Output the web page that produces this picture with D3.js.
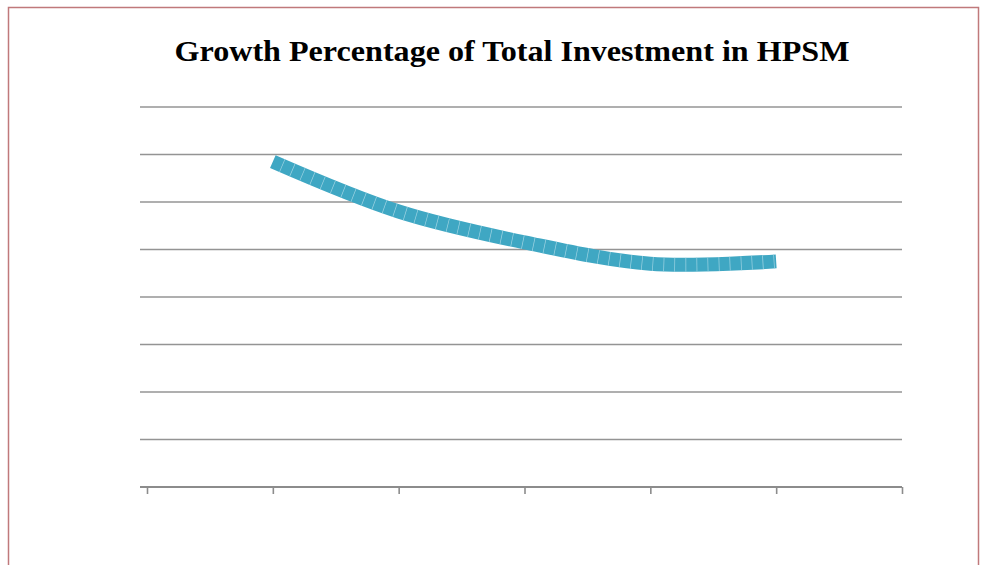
<!DOCTYPE html>
<html><head><meta charset="utf-8">
<script src="https://cdn.jsdelivr.net/npm/d3@7"></script>
<style>html,body{margin:0;padding:0;background:#fff;}svg{display:block;}</style>
</head><body>
<svg id="c" width="981" height="565"></svg>
<script>
const title = "Growth Percentage of Total Investment in HPSM";
const categories = ["", "1", "2", "3", "4", "5", ""];
const seriesX = ["1", "2", "3", "4", "5"];
const seriesValues = [13.7, 11.6, 10.3, 9.4, 9.5];
const yTicks = [0, 2, 4, 6, 8, 10, 12, 14, 16];

const svg = d3.select("#c");
// frame
svg.append("rect").attr("x", 8.5).attr("y", 7.5).attr("width", 970).attr("height", 570)
  .attr("fill", "#fff").attr("stroke", "#c0797b").attr("stroke-width", 1.5);

svg.append("text").attr("x", 512).attr("y", 61).attr("text-anchor", "middle")
  .attr("font-family", "'Liberation Serif','Times New Roman',serif").attr("font-weight", "bold")
  .attr("font-size", 30).attr("textLength", 675).attr("lengthAdjust", "spacingAndGlyphs")
  .attr("fill", "#000").text(title);

const x = d3.scalePoint().domain(categories.map((d, i) => i)).range([147, 902]);
const y = d3.scaleLinear().domain([0, 16]).range([487, 107]);

// gridlines
svg.append("g").selectAll("line").data(yTicks.slice(1)).join("line")
  .attr("x1", 140).attr("x2", 902).attr("y1", d => y(d)).attr("y2", d => y(d))
  .attr("stroke", "#949494").attr("stroke-width", 1.6);

// x axis
const xAxis = d3.axisBottom(x).tickSize(7).tickFormat(() => "");
const gx = svg.append("g").attr("transform", `translate(0,${y(0)})`).call(xAxis);
gx.select(".domain").remove();
gx.selectAll(".tick line").attr("stroke", "#8c8c8c").attr("stroke-width", 1.6);
svg.append("line").attr("x1", 140).attr("x2", 902).attr("y1", y(0)).attr("y2", y(0))
  .attr("stroke", "#8c8c8c").attr("stroke-width", 1.8);

// series line
const pts = seriesValues.map((v, i) => [x(categories.indexOf(seriesX[i])), y(v)]);
const line = d3.line().curve(d3.curveCatmullRom.alpha(0.5));
svg.append("path").attr("d", line(pts)).attr("fill", "none")
  .attr("stroke", "#3fa7c3").attr("stroke-width", 14).attr("stroke-linecap", "butt");
svg.append("path").attr("d", line(pts)).attr("fill", "none")
  .attr("stroke", "#9ed3e2").attr("stroke-width", 14).attr("stroke-linecap", "butt")
  .attr("stroke-dasharray", "0.7 10.3").attr("stroke-dashoffset", -10);
</script>
</body></html>
